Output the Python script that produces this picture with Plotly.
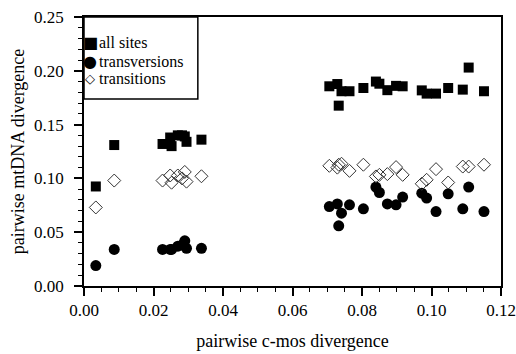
import plotly.graph_objects as go

# c-mos divergence (x) for each pairwise comparison
cmos = [0.0034, 0.0087, 0.0226, 0.0248, 0.0252, 0.0270, 0.0282, 0.0290, 0.0295, 0.0338,
        0.0706, 0.0729, 0.0733, 0.0741, 0.0764, 0.0804, 0.0840, 0.0850, 0.0873,
        0.0898, 0.0917, 0.0972, 0.0986, 0.1013, 0.1048, 0.1090, 0.1107, 0.1151]

all_sites = [0.0925, 0.131, 0.132, 0.138, 0.130, 0.140, 0.140, 0.139, 0.134, 0.136,
             0.1856, 0.1877, 0.1676, 0.181, 0.181, 0.184, 0.190, 0.188, 0.182,
             0.186, 0.1856, 0.1818, 0.1788, 0.1788, 0.184, 0.1825, 0.203, 0.181]

transversions = [0.019, 0.034, 0.034, 0.034, 0.034, 0.037, 0.038, 0.042, 0.035, 0.035,
                 0.0738, 0.0763, 0.0559, 0.0677, 0.0754, 0.0717, 0.0919, 0.0869, 0.0763,
                 0.0754, 0.0826, 0.0863, 0.0817, 0.0692, 0.0857, 0.0717, 0.0919, 0.0692]

transitions = [0.073, 0.098, 0.098, 0.1027, 0.096, 0.1027, 0.100, 0.106, 0.097, 0.102,
               0.1117, 0.110, 0.1127, 0.1136, 0.107, 0.1127, 0.1018, 0.1033, 0.104,
               0.1105, 0.1033, 0.095, 0.0987, 0.1086, 0.0962, 0.111, 0.111, 0.1127]

series_names = ["all sites", "transversions", "transitions"]
legend_symbols = ["\u25A0", "\u25CF", "\u25C7"]

x_ticks = [0.00, 0.02, 0.04, 0.06, 0.08, 0.10, 0.12]
y_ticks = [0.00, 0.05, 0.10, 0.15, 0.20, 0.25]

FONT = "Liberation Serif, Times New Roman, serif"

fig = go.Figure()
fig.add_trace(go.Scatter(x=cmos, y=all_sites, mode="markers", name=series_names[0],
                         marker=dict(symbol="square", size=10, color="black")))
fig.add_trace(go.Scatter(x=cmos, y=transversions, mode="markers", name=series_names[1],
                         marker=dict(symbol="circle", size=11, color="black")))
fig.add_trace(go.Scatter(x=cmos, y=transitions, mode="markers", name=series_names[2],
                         marker=dict(symbol="diamond-open", size=10, color="#333",
                                     line=dict(width=1, color="#333"))))

axis_common = dict(showgrid=False, zeroline=False, showline=True, linecolor="black",
                   linewidth=1.5, mirror=True, ticks="outside", ticklen=8, tickwidth=1.5,
                   tickcolor="black", automargin=False,
                   tickfont=dict(family=FONT, size=17, color="black"))

fig.update_xaxes(range=[0, 0.12], tickvals=x_ticks, ticktext=[f"{v:.2f}" for v in x_ticks],
                 minor=dict(dtick=0.005, ticks="outside", ticklen=4, tickcolor="black", tickwidth=1.2),
                 title=dict(text="pairwise c-mos divergence", font=dict(family=FONT, size=18, color="black"),
                            standoff=15),
                 **axis_common)
fig.update_yaxes(range=[0, 0.25], tickvals=y_ticks, ticktext=[f"{v:.2f}" for v in y_ticks],
                 minor=dict(dtick=0.01, ticks="outside", ticklen=4, tickcolor="black", tickwidth=1.2),
                 title=dict(text="pairwise mtDNA divergence", font=dict(family=FONT, size=18, color="black"),
                            standoff=5),
                 ticklabelstandoff=7,
                 **axis_common)

# legend frame
fig.add_shape(type="rect", xref="paper", yref="paper", x0=0, y0=0.695, x1=0.273, y1=1,
              line=dict(color="black", width=1.5), fillcolor="white", layer="below")

legend_y = [0.907, 0.836, 0.773]
legend_sym_size = [16, 16, 13]
for name, sym, yy, ss in zip(series_names, legend_symbols, legend_y, legend_sym_size):
    fig.add_annotation(xref="paper", yref="paper", x=0.0145, y=yy, text=sym, showarrow=False,
                       xanchor="center", yanchor="middle",
                       font=dict(family="DejaVu Sans", size=ss, color="black"))
    fig.add_annotation(xref="paper", yref="paper", x=0.031, y=yy, text=name, showarrow=False,
                       xanchor="left", yanchor="middle",
                       font=dict(family=FONT, size=16, color="black"))

fig.update_layout(
    width=516, height=354,
    margin=dict(l=84, r=15, t=17, b=68),
    paper_bgcolor="white", plot_bgcolor="white",
    font=dict(family=FONT, size=16, color="black"),
    showlegend=False,
)

fig.write_html("out.html", config={"displayModeBar": False},
               post_script="document.body.style.margin='0';document.body.style.overflow='hidden';")
